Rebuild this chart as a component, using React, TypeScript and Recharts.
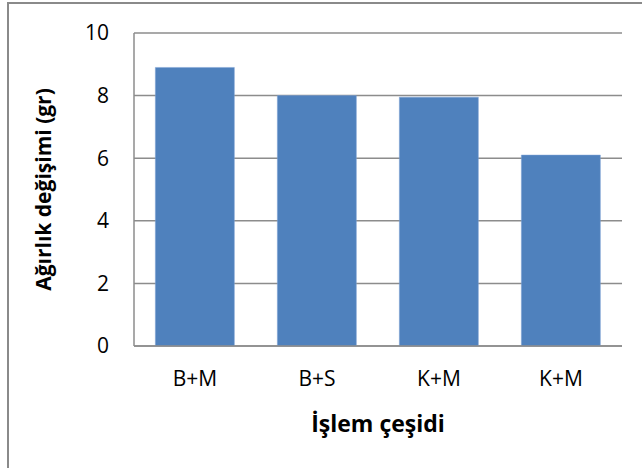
import { BarChart, Bar, XAxis, YAxis, CartesianGrid } from 'recharts';

// Ağırlık değişimi by işlem çeşidi
const categories = ['B+M', 'B+S', 'K+M', 'K+M'];
const values = [8.9, 8.0, 7.95, 6.1];
const yTicks = [0, 2, 4, 6, 8, 10];

const data = categories.map((name, i) => ({ key: `${name}-${i}`, name, value: values[i] }));

const font = '"Open Sans", "Noto Sans", sans-serif';

export default function App() {
  return (
    <div style={{ position: 'absolute', left: 0, top: 0, width: 642, height: 468, overflow: 'hidden', background: '#fff' }}>
      <div
        style={{
          position: 'absolute',
          left: 7,
          top: 2,
          width: 700,
          height: 520,
          border: '2px solid #8a8a8a',
          boxSizing: 'border-box',
        }}
      />
      <BarChart
        width={642}
        height={468}
        data={data}
        margin={{ top: 33, right: 20, bottom: 42, left: 74 }}
        barCategoryGap="17.5%"
        style={{ position: 'absolute', left: 0, top: 0, fontFamily: font }}
      >
        <CartesianGrid vertical={false} stroke="#8c8c8c" strokeWidth={1.5} />
        <XAxis
          dataKey="key"
          tickFormatter={(v: string) => v.split('-')[0]}
          height={80}
          axisLine={{ stroke: '#8c8c8c', strokeWidth: 1.5 }}
          tickLine={false}
          tickSize={0}
          tickMargin={25}
          tick={{ fill: '#000', fontSize: 21 }}
          label={{ value: 'İşlem çeşidi', position: 'insideBottom', offset: -6, fill: '#000', fontSize: 23, fontWeight: 700 }}
        />
        <YAxis
          domain={[0, 10]}
          ticks={yTicks}
          width={60}
          axisLine={{ stroke: '#8c8c8c', strokeWidth: 1.5 }}
          tickLine={false}
          tickSize={0}
          tickMargin={25}
          tick={{ fill: '#000', fontSize: 21 }}
          label={{ value: 'Ağırlık değişimi (gr)', angle: -90, position: 'insideLeft', offset: -30, fill: '#000', fontSize: 21, fontWeight: 700, style: { textAnchor: 'middle' } }}
        />
        <Bar dataKey="value" fill="#4f81bd" stroke="#7ea3d4" strokeWidth={0.5} isAnimationActive={false} />
      </BarChart>
    </div>
  );
}
